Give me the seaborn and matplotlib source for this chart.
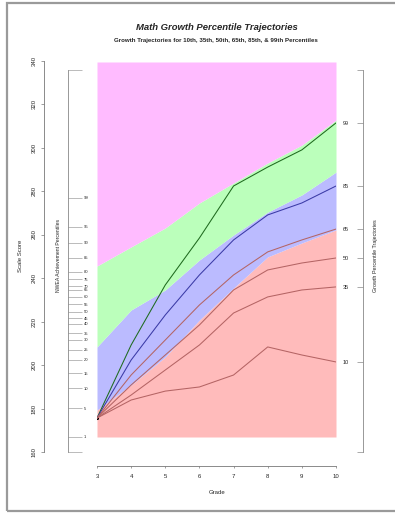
import numpy as np
import pandas as pd
import seaborn as sns
import matplotlib
matplotlib.use("Agg")
import matplotlib.pyplot as plt
from matplotlib.patches import Rectangle

# ---------------- data (scale-score units) ----------------
grades = [3, 4, 5, 6, 7, 8, 9, 10]

# achievement-level boundaries
pink_green = [245.5, 254.3, 263.0, 274.5, 283.7, 292.9, 301.1, 312.6]
green_blue = [208.3, 225.3, 234.5, 248.3, 259.8, 270.3, 278.2, 288.7]
blue_red = [179.3, 190.8, 203.7, 220.7, 235.4, 249.7, 256.1, 262.1]

# growth percentile trajectories
traj_99 = [175.6, 209.2, 236.8, 258.4, 282.3, 291.0, 298.9, 311.3]
traj_85 = [175.6, 202.3, 223.0, 241.4, 257.5, 269.0, 274.5, 282.3]
traj_65 = [175.6, 195.4, 211.5, 227.6, 241.4, 252.0, 257.5, 262.5]
traj_50 = [175.6, 190.8, 204.6, 218.4, 234.5, 243.7, 246.9, 249.2]
traj_35 = [175.6, 186.2, 197.7, 209.2, 223.9, 231.3, 234.5, 235.9]
traj_10 = [175.6, 183.9, 188.0, 189.9, 195.4, 208.3, 204.6, 201.4]
traj_labels = ["99", "85", "65", "50", "35", "10"]
traj_colors = ["#1e6a1e", "#3a3aa6", "#b46464", "#b46464", "#b46464", "#b46464"]

# NWEA achievement percentile cut scores (inner left axis)
pct_labels = ["1", "5", "10", "15", "20", "25", "30", "35", "40", "45", "50",
              "55", "60", "65", "70", "75", "80", "85", "90", "95", "99"]
pct_scores = [166.9, 180.2, 189.4, 196.3, 202.3, 206.9, 211.5, 214.7, 218.9, 221.6,
              224.4, 228.0, 231.3, 234.5, 236.3, 239.5, 242.8, 249.2, 256.1, 263.5, 276.8]

scale_ticks = [160, 180, 200, 220, 240, 260, 280, 300, 320, 340]
grade_ticks = [3, 4, 5, 6, 7, 8, 9, 10]

title = "Math Growth Percentile Trajectories"
subtitle = "Growth Trajectories for 10th, 35th, 50th, 65th, 85th, & 99th Percentiles"

# ---------------- layout helpers ----------------
W, H = 395, 514
PX_PT = 72 / 100.0


def box(x0, y0, x1, y1):
    return [x0 / W, 1 - y1 / H, (x1 - x0) / W, (y1 - y0) / H]


def val(py):
    # pixel row -> scale score (160 at y=452, 20 points per 43.5 px)
    return 160 + (452 - py) * 20 / 43.5


sns.set_theme(style="white")
plt.rcParams["font.family"] = ["Liberation Sans", "DejaVu Sans"]

fig = plt.figure(figsize=(W / 100, H / 100), dpi=100)
fig.patch.set_facecolor("white")

# ---------------- main panel ----------------
ax = fig.add_axes(box(97, 62, 336, 466))
ax.set_xlim(3, 10)
ax.set_ylim(val(466), val(62))
ax.patch.set_visible(False)

bottom = val(437)
top = val(62)
ax.fill_between(grades, bottom, blue_red, color="#FFBBBB", lw=0)
ax.fill_between(grades, blue_red, green_blue, color="#BBBBFF", lw=0)
ax.fill_between(grades, green_blue, pink_green, color="#BBFFBB", lw=0)
ax.fill_between(grades, pink_green, top, color="#FFBBFF", lw=0)

series = [traj_99, traj_85, traj_65, traj_50, traj_35, traj_10]
df = pd.DataFrame({
    "grade": np.tile(grades, len(series)),
    "score": np.concatenate(series),
    "pct": np.repeat(traj_labels, len(grades)),
})
sns.lineplot(data=df, x="grade", y="score", hue="pct", hue_order=traj_labels,
             palette=dict(zip(traj_labels, traj_colors)), lw=0.75,
             legend=False, ax=ax)
sns.scatterplot(x=[grades[0]], y=[traj_99[0]], color="black", s=5, lw=0, ax=ax)

for s in ["left", "right", "top"]:
    ax.spines[s].set_visible(False)
ax.spines["bottom"].set_color("#777777")
ax.spines["bottom"].set_linewidth(0.6)
ax.set_yticks([])
ax.set_xticks(grade_ticks)
ax.set_xticklabels([str(g) for g in grade_ticks])
ax.tick_params(axis="x", direction="out", length=2.5 * PX_PT, width=0.5,
               color="#777777", labelsize=4.3, pad=6 * PX_PT, bottom=True)
ax.set_xlabel("")
ax.set_ylabel("")

# ---------------- left scale-score axis ----------------
axL = fig.add_axes(box(44, 60, 44.05, 466))
axL.set_ylim(val(466), val(60))
axL.patch.set_visible(False)
axL.set_xticks([])
for s in ["right", "top", "bottom"]:
    axL.spines[s].set_visible(False)
axL.spines["left"].set_bounds(scale_ticks[0], scale_ticks[-1])
axL.spines["left"].set_color("#777777")
axL.spines["left"].set_linewidth(0.6)
axL.set_yticks(scale_ticks)
axL.set_yticklabels([str(t) for t in scale_ticks], rotation=90, va="center")
axL.tick_params(axis="y", direction="out", length=3 * PX_PT, width=0.5,
                color="#777777", labelsize=4.3, pad=4 * PX_PT, left=True)

# ---------------- inner percentile axis ----------------
axP = fig.add_axes(box(68, 60, 68.05, 466))
axP.set_ylim(val(466), val(60))
axP.patch.set_visible(False)
axP.set_xticks([])
for s in ["left", "top", "bottom"]:
    axP.spines[s].set_visible(False)
axP.spines["right"].set_bounds(val(452), val(70))
axP.spines["right"].set_color("#888888")
axP.spines["right"].set_linewidth(0.6)
axP.yaxis.tick_right()
axP.set_yticks([val(452)] + pct_scores + [val(70)])
axP.set_yticklabels([""] + pct_labels + [""])
axP.tick_params(axis="y", direction="out", length=14 * PX_PT, width=0.4,
                color="#888888", labelsize=3.0, pad=2 * PX_PT, right=True)

# ---------------- right trajectory axis ----------------
axR = fig.add_axes(box(363, 60, 363.05, 466))
axR.set_ylim(val(466), val(60))
axR.patch.set_visible(False)
axR.set_xticks([])
for s in ["right", "top", "bottom"]:
    axR.spines[s].set_visible(False)
axR.spines["left"].set_bounds(val(452), val(70))
axR.spines["left"].set_color("#888888")
axR.spines["left"].set_linewidth(0.6)
ends = [s_[-1] for s_ in series]
axR.set_yticks([val(452)] + ends + [val(70)])
axR.set_yticklabels([""] + traj_labels + [""])
axR.tick_params(axis="y", direction="out", length=6 * PX_PT, width=0.5,
                color="#888888", labelsize=4.0, pad=8 * PX_PT, left=True)

# ---------------- texts ----------------
fig.text(217 / W, 1 - 28 / H, title, fontsize=6.8, fontweight="bold",
         fontstyle="italic", ha="center", va="center")
fig.text(216 / W, 1 - 41 / H, subtitle, fontsize=4.4, fontweight="bold",
         ha="center", va="center")
fig.text(217 / W, 1 - 493 / H, "Grade", fontsize=4.3, ha="center", va="center")
fig.text(20 / W, 1 - 256 / H, "Scale Score", fontsize=4.3, rotation=90,
         ha="center", va="center")
fig.text(58 / W, 1 - 255 / H, "NWEA Achievement Percentiles", fontsize=3.7,
         rotation=90, ha="center", va="center")
fig.text(376 / W, 1 - 256 / H, "Growth Percentile Trajectories", fontsize=3.9,
         rotation=90, ha="center", va="center")

# page frame
fig.add_artist(Rectangle((7 / W, 3 / H), (400 - 7) / W, (511 - 3) / H,
                         transform=fig.transFigure, fill=False,
                         edgecolor="#9a9a9a", lw=1.6))

fig.savefig("out.png", dpi=100, facecolor="white")
